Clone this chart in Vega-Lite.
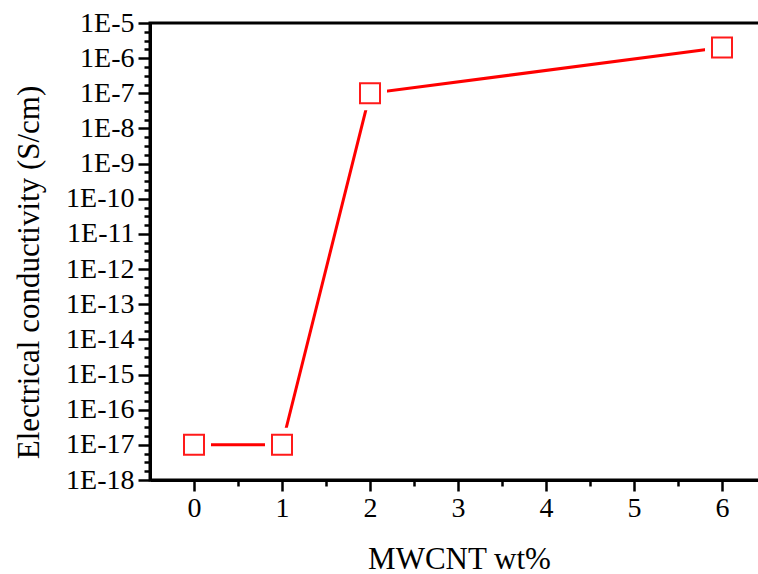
{
  "$schema": "https://vega.github.io/schema/vega-lite/v6.json",
  "width": 616,
  "height": 457,
  "autosize": "none",
  "padding": {"left": 150, "top": 23, "right": 0, "bottom": 94},
  "background": "white",
  "config": {
    "view": {"stroke": "black", "strokeWidth": 3},
    "font": "Liberation Serif",
    "axis": {
      "grid": false,
      "domainColor": "black",
      "domainWidth": 3,
      "tickColor": "black",
      "tickWidth": 2.5,
      "labelColor": "black",
      "labelFont": "Liberation Serif",
      "labelFontSize": 28,
      "labelOverlap": false,
      "labelFlush": false,
      "titleFont": "Liberation Serif",
      "titleFontSize": 31,
      "titleFontWeight": "normal",
      "titleColor": "black"
    }
  },
  "data": {
    "values": [
      {"wt": 0, "sigma": 1e-17},
      {"wt": 1, "sigma": 1e-17},
      {"wt": 2, "sigma": 1e-7},
      {"wt": 6, "sigma": 2e-6}
    ]
  },
  "encoding": {
    "x": {
      "field": "wt",
      "type": "quantitative",
      "scale": {"domain": [-0.5, 6.5], "nice": false, "zero": false},
      "axis": {
        "title": "MWCNT wt%",
        "values": [0, 0.5, 1, 1.5, 2, 2.5, 3, 3.5, 4, 4.5, 5, 5.5, 6],
        "labelExpr": "datum.value % 1 === 0 ? format(datum.value, 'd') : ''",
        "tickSize": {"condition": {"test": "datum.value % 1 === 0", "value": 11}, "value": 6},
        "labelPadding": 3,
        "titleX": 309,
        "titleY": 88,
        "titleBaseline": "alphabetic"
      }
    },
    "y": {
      "field": "sigma",
      "type": "quantitative",
      "scale": {"type": "log", "domain": [1e-18, 1e-5], "nice": false},
      "axis": {
        "title": "Electrical conductivity (S/cm)",
        "values": [
          1e-5, 5.62341e-6, 3.16228e-6, 1.77828e-6,
          1e-6, 5.62341e-7, 3.16228e-7, 1.77828e-7,
          1e-7, 5.62341e-8, 3.16228e-8, 1.77828e-8,
          1e-8, 5.62341e-9, 3.16228e-9, 1.77828e-9,
          1e-9, 5.62341e-10, 3.16228e-10, 1.77828e-10,
          1e-10, 5.62341e-11, 3.16228e-11, 1.77828e-11,
          1e-11, 5.62341e-12, 3.16228e-12, 1.77828e-12,
          1e-12, 5.62341e-13, 3.16228e-13, 1.77828e-13,
          1e-13, 5.62341e-14, 3.16228e-14, 1.77828e-14,
          1e-14, 5.62341e-15, 3.16228e-15, 1.77828e-15,
          1e-15, 5.62341e-16, 3.16228e-16, 1.77828e-16,
          1e-16, 5.62341e-17, 3.16228e-17, 1.77828e-17,
          1e-17, 5.62341e-18, 3.16228e-18, 1.77828e-18,
          1e-18
        ],
        "labelExpr": "abs(log(datum.value) / LN10 - round(log(datum.value) / LN10)) < 0.01 ? '1E' + round(log(datum.value) / LN10) : ''",
        "tickSize": {"condition": {"test": "abs(log(datum.value) / LN10 - round(log(datum.value) / LN10)) < 0.01", "value": 12}, "value": 6},
        "labelPadding": 4,
        "titleX": -112,
        "titleY": 249,
        "titleAngle": -90,
        "titleBaseline": "alphabetic",
        "titleAlign": "center"
      }
    }
  },
  "layer": [
    {
      "mark": {"type": "line", "color": "#ff0000", "strokeWidth": 3}
    },
    {
      "mark": {"type": "point", "shape": "square", "size": 1156, "filled": true, "color": "white", "opacity": 1}
    },
    {
      "mark": {"type": "point", "shape": "square", "size": 400, "filled": false, "stroke": "#ff1a1a", "strokeWidth": 2, "fill": "white", "fillOpacity": 1, "opacity": 1}
    }
  ]
}
